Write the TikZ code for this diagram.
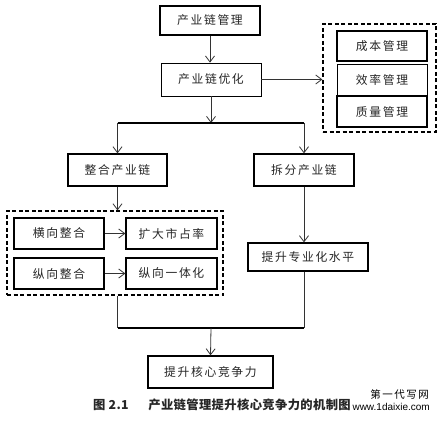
\documentclass[tikz,border=0pt]{standalone}
\usepackage{fontspec}
\newfontfamily\cjk{Noto Sans CJK SC}[LetterSpace=14]
\newfontfamily\cjkcap{Noto Sans CJK SC}[LetterSpace=3]
\newfontfamily\wmfont{Liberation Sans}
\usetikzlibrary{arrows.meta,calc}
\begin{document}
\begin{tikzpicture}[x=1pt,y=-1pt,
  box/.style={draw=black,line width=1.3pt,fill=white,inner sep=0pt,font=\cjk\fontsize{11.8}{13}\selectfont,text=black!85},
  thinbox/.style={box,line width=0.7pt},
  dbox/.style={draw=black,line width=1.2pt,dash pattern=on 4pt off 2.5pt,inner sep=0pt},
  arr/.style={draw=black!80,line width=0.8pt,-{Straight Barb[length=6pt,width=9pt,line width=0.8pt]}},
  ln/.style={draw=black!80,line width=0.8pt},
  bar/.style={draw=black,line width=1.4pt}]
\useasboundingbox (0,0) rectangle (439,422);
% top
\node[box,minimum width=100pt,minimum height=29pt] (m1) at (210,20.5) {产业链管理};
\node[thinbox,minimum width=100pt,minimum height=33pt] (m2) at (211,79.5) {产业链优化};
% right dashed group
\node[dbox,minimum width=113pt,minimum height=108pt] (d1) at (379.5,78) {};
\node[box,minimum width=90pt,minimum height=30pt] (c1) at (382,46) {成本管理};
\node[thinbox,minimum width=90pt,minimum height=32pt] (c2) at (382,80) {效率管理};
\node[box,minimum width=90pt,minimum height=31pt] (c3) at (382,111.5) {质量管理};
% second level
\coordinate (j1) at (211,123);
\node[box,minimum width=99pt,minimum height=32pt] (i1) at (117.5,170) {整合产业链};
\node[box,minimum width=100pt,minimum height=32pt] (s1) at (304,170) {拆分产业链};
% left dashed group
\node[dbox,minimum width=216pt,minimum height=84pt] (d2) at (115,253) {};
\node[box,minimum width=90pt,minimum height=31pt] (h1) at (59,233.5) {横向整合};
\node[box,minimum width=91pt,minimum height=31pt] (h2) at (171.5,233.5) {扩大市占率};
\node[box,minimum width=90pt,minimum height=31pt] (v1) at (59,273.5) {纵向整合};
\node[box,minimum width=91pt,minimum height=31pt] (v2) at (171.5,273.5) {纵向一体化};
% right branch
\node[box,minimum width=120pt,minimum height=28pt] (p1) at (308,257) {提升专业化水平};
% bottom
\coordinate (j2) at (211,328);
\node[box,minimum width=125pt,minimum height=32pt] (f1) at (210.5,372) {提升核心竞争力};
% connectors
\draw[arr] (m1.south) -- (m1.south |- m2.north);
\draw[arr] (m2.east) -- (m2.east -| d1.west);
\draw[arr] (m2.south) -- (j1);
\draw[bar] (i1.north |- j1) -- (s1.north |- j1);
\draw[arr] (i1.north |- j1) -- (i1.north);
\draw[arr] (s1.north |- j1) -- (s1.north);
\draw[arr] (i1.south) -- (i1.south |- d2.north);
\draw[arr] (h1.east) -- (h2.west);
\draw[arr] (v1.east) -- (v2.west);
\draw[arr] (s1.south) -- (s1.south |- p1.north);
\draw[ln] (i1.south |- d2.south) -- (i1.south |- j2);
\draw[ln] (s1.south |- p1.south) -- (s1.south |- j2);
\draw[bar] (i1.south |- j2) -- (s1.south |- j2);
\draw[arr] (j2) -- (f1.north);
% caption
\node[inner sep=0pt,font=\cjkcap\bfseries\fontsize{12.3}{14}\selectfont,text=black!85,anchor=west] (cap) at (93,405) {图 2.1\hspace{1.6em}产业链管理提升核心竞争力的机制图};
% watermark
\node[inner sep=0pt,font=\cjk\fontsize{10.5}{12}\selectfont,anchor=east] (wm1) at (429,394) {第一代写网};
\node[inner sep=0pt,font=\wmfont\fontsize{10}{12}\selectfont,anchor=east] (wm2) at (430,407) {www.1daixie.com};
\end{tikzpicture}
\end{document}
